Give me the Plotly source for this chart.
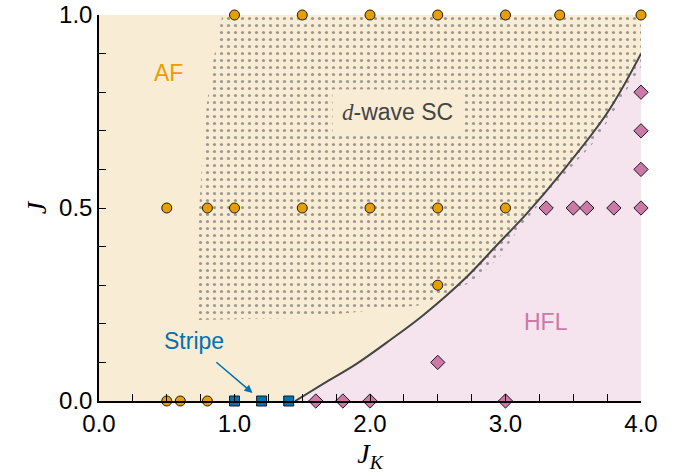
import plotly.graph_objects as go

# --- data ---
# AF (orange circles)
af_jk = [1.0, 1.5, 2.0, 2.5, 3.0, 3.4, 4.0,
         0.5, 0.8, 1.0, 1.5, 2.0, 2.5, 3.0,
         2.5,
         0.5, 0.6, 0.8]
af_j = [1.0, 1.0, 1.0, 1.0, 1.0, 1.0, 1.0,
        0.5, 0.5, 0.5, 0.5, 0.5, 0.5, 0.5,
        0.3,
        0.0, 0.0, 0.0]
# Stripe (blue squares)
stripe_jk = [1.0, 1.2, 1.4]
stripe_j = [0.0, 0.0, 0.0]
# HFL (pink diamonds)
hfl_jk = [1.6, 1.8, 2.0, 3.0, 2.5, 3.3, 3.5, 3.6, 3.8, 4.0, 4.0, 4.0, 4.0]
hfl_j = [0.0, 0.0, 0.0, 0.0, 0.1, 0.5, 0.5, 0.5, 0.5, 0.5, 0.6, 0.7, 0.8]

# phase boundary (AF / HFL)
bound_jk = [1.448, 1.657, 1.903, 2.149, 2.395, 2.715, 2.937, 3.158, 3.40, 3.75, 4.0]
bound_j = [0.0, 0.045, 0.097, 0.158, 0.223, 0.322, 0.404, 0.486, 0.586, 0.746, 0.9]

# d-wave SC hatched region outline
sc_jk = [0.91, 0.845, 0.80, 0.77, 0.75, 0.73, 0.71, 0.71, 1.49, 2.37, 2.78, 2.96,
         3.11, 3.40, 3.67, 3.85, 4.0, 4.0, 0.91]
sc_j = [1.0, 0.885, 0.78, 0.677, 0.556, 0.45, 0.26, 0.21, 0.215, 0.248, 0.313, 0.374,
        0.452, 0.573, 0.677, 0.78, 0.866, 1.0, 1.0]

BEIGE = "#F8ECD4"
PINK = "#F5E4EE"
ORANGE = "#E69F00"
BLUE = "#0072B2"
MAGENTA = "#CC79A7"
SANS = "Liberation Sans, Arial, sans-serif"
SERIF = "Liberation Serif, Times New Roman, serif"

fig = go.Figure()

# HFL region (under the boundary)
fig.add_trace(go.Scatter(x=bound_jk, y=bound_j, mode="lines", fill="tozeroy",
                         fillcolor=PINK, line=dict(width=0, shape="spline"),
                         hoverinfo="skip", showlegend=False))
# d-wave SC hatched region
fig.add_trace(go.Scatter(x=sc_jk, y=sc_j, mode="lines", fill="toself",
                         fillcolor="rgba(0,0,0,0)",
                         fillpattern=dict(shape=".", fgcolor="#606060", size=7,
                                          solidity=0.16, fgopacity=0.6),
                         line=dict(width=0),
                         hoverinfo="skip", showlegend=False))
# boundary line
fig.add_trace(go.Scatter(x=bound_jk, y=bound_j, mode="lines",
                         line=dict(color="#444444", width=2, shape="spline"),
                         hoverinfo="skip", showlegend=False))

mline = dict(color="#1a1a1a", width=1)
fig.add_trace(go.Scatter(x=af_jk, y=af_j, mode="markers", cliponaxis=False,
                         marker=dict(symbol="circle", size=10, color=ORANGE, line=mline),
                         showlegend=False))
fig.add_trace(go.Scatter(x=stripe_jk, y=stripe_j, mode="markers", cliponaxis=False,
                         marker=dict(symbol="square", size=10, color=BLUE, line=mline),
                         showlegend=False))
fig.add_trace(go.Scatter(x=hfl_jk, y=hfl_j, mode="markers", cliponaxis=False,
                         marker=dict(symbol="diamond", size=11, color=MAGENTA, line=mline),
                         showlegend=False))

annots = [
    dict(x=0.51, y=0.85, text="AF", showarrow=False,
         font=dict(family=SANS, size=23, color=ORANGE)),
    dict(x=3.30, y=0.205, text="HFL", showarrow=False,
         font=dict(family=SANS, size=23, color=MAGENTA)),
    dict(x=0.70, y=0.156, text="Stripe", showarrow=False,
         font=dict(family=SANS, size=23, color=BLUE)),
    dict(x=2.20, y=0.75,
         text="<span style=\"font-family:'Liberation Serif'\"><i>d</i></span>-wave SC",
         showarrow=False, bgcolor=BEIGE, borderpad=9,
         font=dict(family=SANS, size=23, color="#444444")),
    dict(x=1.133, y=0.021, ax=0.844, ay=0.107, xref="x", yref="y",
         axref="x", ayref="y", text=" ", showarrow=True,
         arrowhead=2, arrowsize=1, arrowwidth=1.6, arrowcolor=BLUE,
         font=dict(size=10)),
]

fig.update_layout(
    width=686, height=476,
    margin=dict(l=99, r=45, t=15, b=75),
    paper_bgcolor="white", plot_bgcolor=BEIGE,
    annotations=annots,
    font=dict(family=SANS, size=24, color="black"),
)
fig.update_xaxes(range=[0, 4], showgrid=False, zeroline=False, automargin=False,
                 showline=True, linecolor="black", linewidth=1.5,
                 ticks="inside", ticklen=7, tickwidth=1.2, tickcolor="black",
                 dtick=1, tick0=0, tickformat=".1f",
                 minor=dict(ticks="inside", dtick=0.25, ticklen=7, tickwidth=1.2, tickcolor="black"),
                 tickfont=dict(family=SANS, size=24),
                 title=dict(text="<i>J</i><sub><i>K</i></sub>",
                            font=dict(family=SERIF, size=28), standoff=8))
fig.update_yaxes(range=[0, 1], showgrid=False, zeroline=False, automargin=False,
                 showline=True, linecolor="black", linewidth=1.5,
                 ticks="inside", ticklen=7, tickwidth=1.2, tickcolor="black",
                 dtick=0.5, tick0=0, tickformat=".1f",
                 minor=dict(ticks="inside", dtick=0.1, ticklen=7, tickwidth=1.2, tickcolor="black"),
                 tickfont=dict(family=SANS, size=24),
                 title=dict(text="<i>J</i>", font=dict(family=SERIF, size=28), standoff=4))

fig.write_html("out.html")
